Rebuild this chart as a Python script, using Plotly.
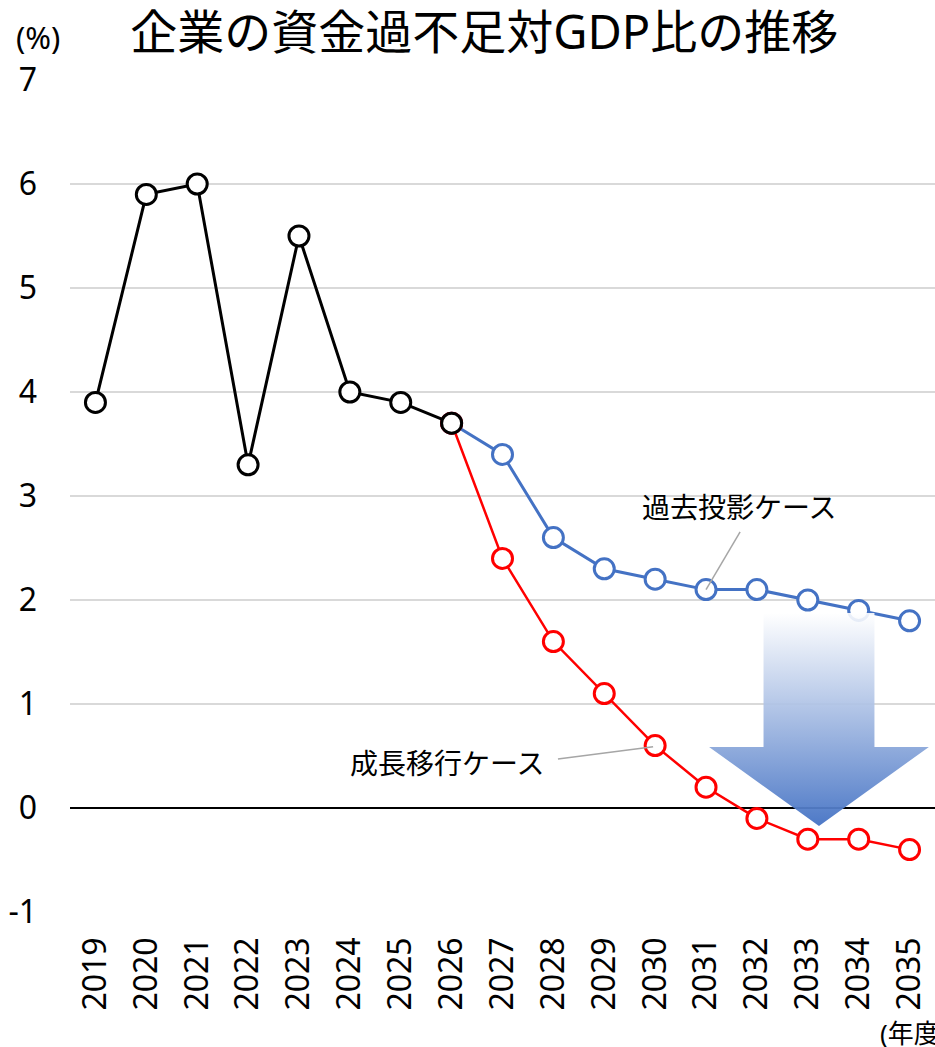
import plotly.graph_objects as go

years = [str(y) for y in range(2019, 2036)]
actual_years = years[:8]
actual_vals = [3.9, 5.9, 6.0, 3.3, 5.5, 4.0, 3.9, 3.7]
proj_years = years[7:]
past_case = [3.7, 3.4, 2.6, 2.3, 2.2, 2.1, 2.1, 2.0, 1.9, 1.8]
growth_case = [3.7, 2.4, 1.6, 1.1, 0.6, 0.2, -0.1, -0.3, -0.3, -0.4]
y_ticks = list(range(-1, 8))
y_ticktext = [str(v) for v in y_ticks]

FONT = "Noto Sans, Noto Sans CJK JP, sans-serif"
BLUE = "#4472C4"
RED = "#FF0000"

fig = go.Figure()

# decorative gradient arrow (numeric overlay axis x2)
cx, shaft_hw, head_hw = 14.22, 1.09, 2.16
y_top, y_head, y_tip = 1.875, 0.587, -0.173
ax = [cx - shaft_hw, cx + shaft_hw, cx + shaft_hw, cx + head_hw, cx, cx - head_hw, cx - shaft_hw, cx - shaft_hw]
ay = [y_top, y_top, y_head, y_head, y_tip, y_head, y_head, y_top]
fig.add_trace(go.Scatter(
    x=ax, y=ay, xaxis="x2", yaxis="y", mode="lines", line=dict(width=0),
    fill="toself",
    fillgradient=dict(type="vertical",
                      colorscale=[[0, "rgba(68,114,196,0.95)"], [1, "rgba(255,255,255,0.9)"]]),
    hoverinfo="skip", showlegend=False))

marker_common = dict(size=20, color="white")
fig.add_trace(go.Scatter(x=proj_years, y=past_case, mode="lines+markers",
                         line=dict(color=BLUE, width=3),
                         marker=dict(**marker_common, line=dict(color=BLUE, width=3)),
                         showlegend=False))
fig.add_trace(go.Scatter(x=proj_years, y=growth_case, mode="lines+markers",
                         line=dict(color=RED, width=2.5),
                         marker=dict(**marker_common, line=dict(color=RED, width=3)),
                         showlegend=False))
fig.add_trace(go.Scatter(x=actual_years, y=actual_vals, mode="lines+markers",
                         line=dict(color="black", width=3),
                         marker=dict(**marker_common, line=dict(color="black", width=3)),
                         showlegend=False))

# leader lines
fig.add_shape(type="line", xref="x2", yref="y", x0=12.67, y0=2.654, x1=12, y1=2.1,
              line=dict(color="#a6a6a6", width=1.5))
fig.add_shape(type="line", xref="x2", yref="y", x0=9.09, y0=0.471, x1=10.96, y1=0.59,
              line=dict(color="#a6a6a6", width=1.5))

fig.add_annotation(text="過去投影ケース", xref="x2", yref="y", x=12.65, y=2.894,
                   showarrow=False, font=dict(size=28, color="black", family=FONT))
fig.add_annotation(text="成長移行ケース", xref="x2", yref="y", x=6.91, y=0.433,
                   showarrow=False, font=dict(size=28, color="black", family=FONT))
fig.add_annotation(text="(%)", xref="paper", yref="paper", x=-0.037, y=1.0515,
                   xanchor="center", yanchor="middle",
                   showarrow=False, font=dict(size=31, color="black", family=FONT))
fig.add_annotation(text="(年度)", xref="paper", yref="paper", x=0.934, y=-0.145,
                   xanchor="left", yanchor="middle",
                   showarrow=False, font=dict(size=26, color="black", family=FONT))

fig.update_layout(
    width=935, height=1047,
    margin=dict(l=70, r=0, t=80, b=135),
    paper_bgcolor="white", plot_bgcolor="white",
    font=dict(family=FONT, color="black"),
    title=dict(text="企業の資金過不足対GDP比の推移", x=0.518, xanchor="center",
               y=1 - 33 / 1047, yanchor="middle",
               font=dict(size=47, color="black", family=FONT)),
    xaxis=dict(type="category", categoryorder="array", categoryarray=years,
               range=[-0.5, 16.5], showgrid=False, zeroline=False, showline=False,
               tickangle=-90, tickfont=dict(size=32), ticks="", ticklabelstandoff=18),
    xaxis2=dict(overlaying="x", range=[-0.5, 16.5], visible=False),
    yaxis=dict(range=[-1, 7], tickvals=y_ticks, ticktext=y_ticktext, showgrid=True,
               gridcolor="#d9d9d9", gridwidth=1.5, zeroline=True, zerolinecolor="black",
               zerolinewidth=1.5, showline=False, tickfont=dict(size=32), ticks="",
               ticklabelstandoff=32),
)

fig.write_html("out.html", config={"displayModeBar": False},
               post_script="document.body.style.margin='0';")
